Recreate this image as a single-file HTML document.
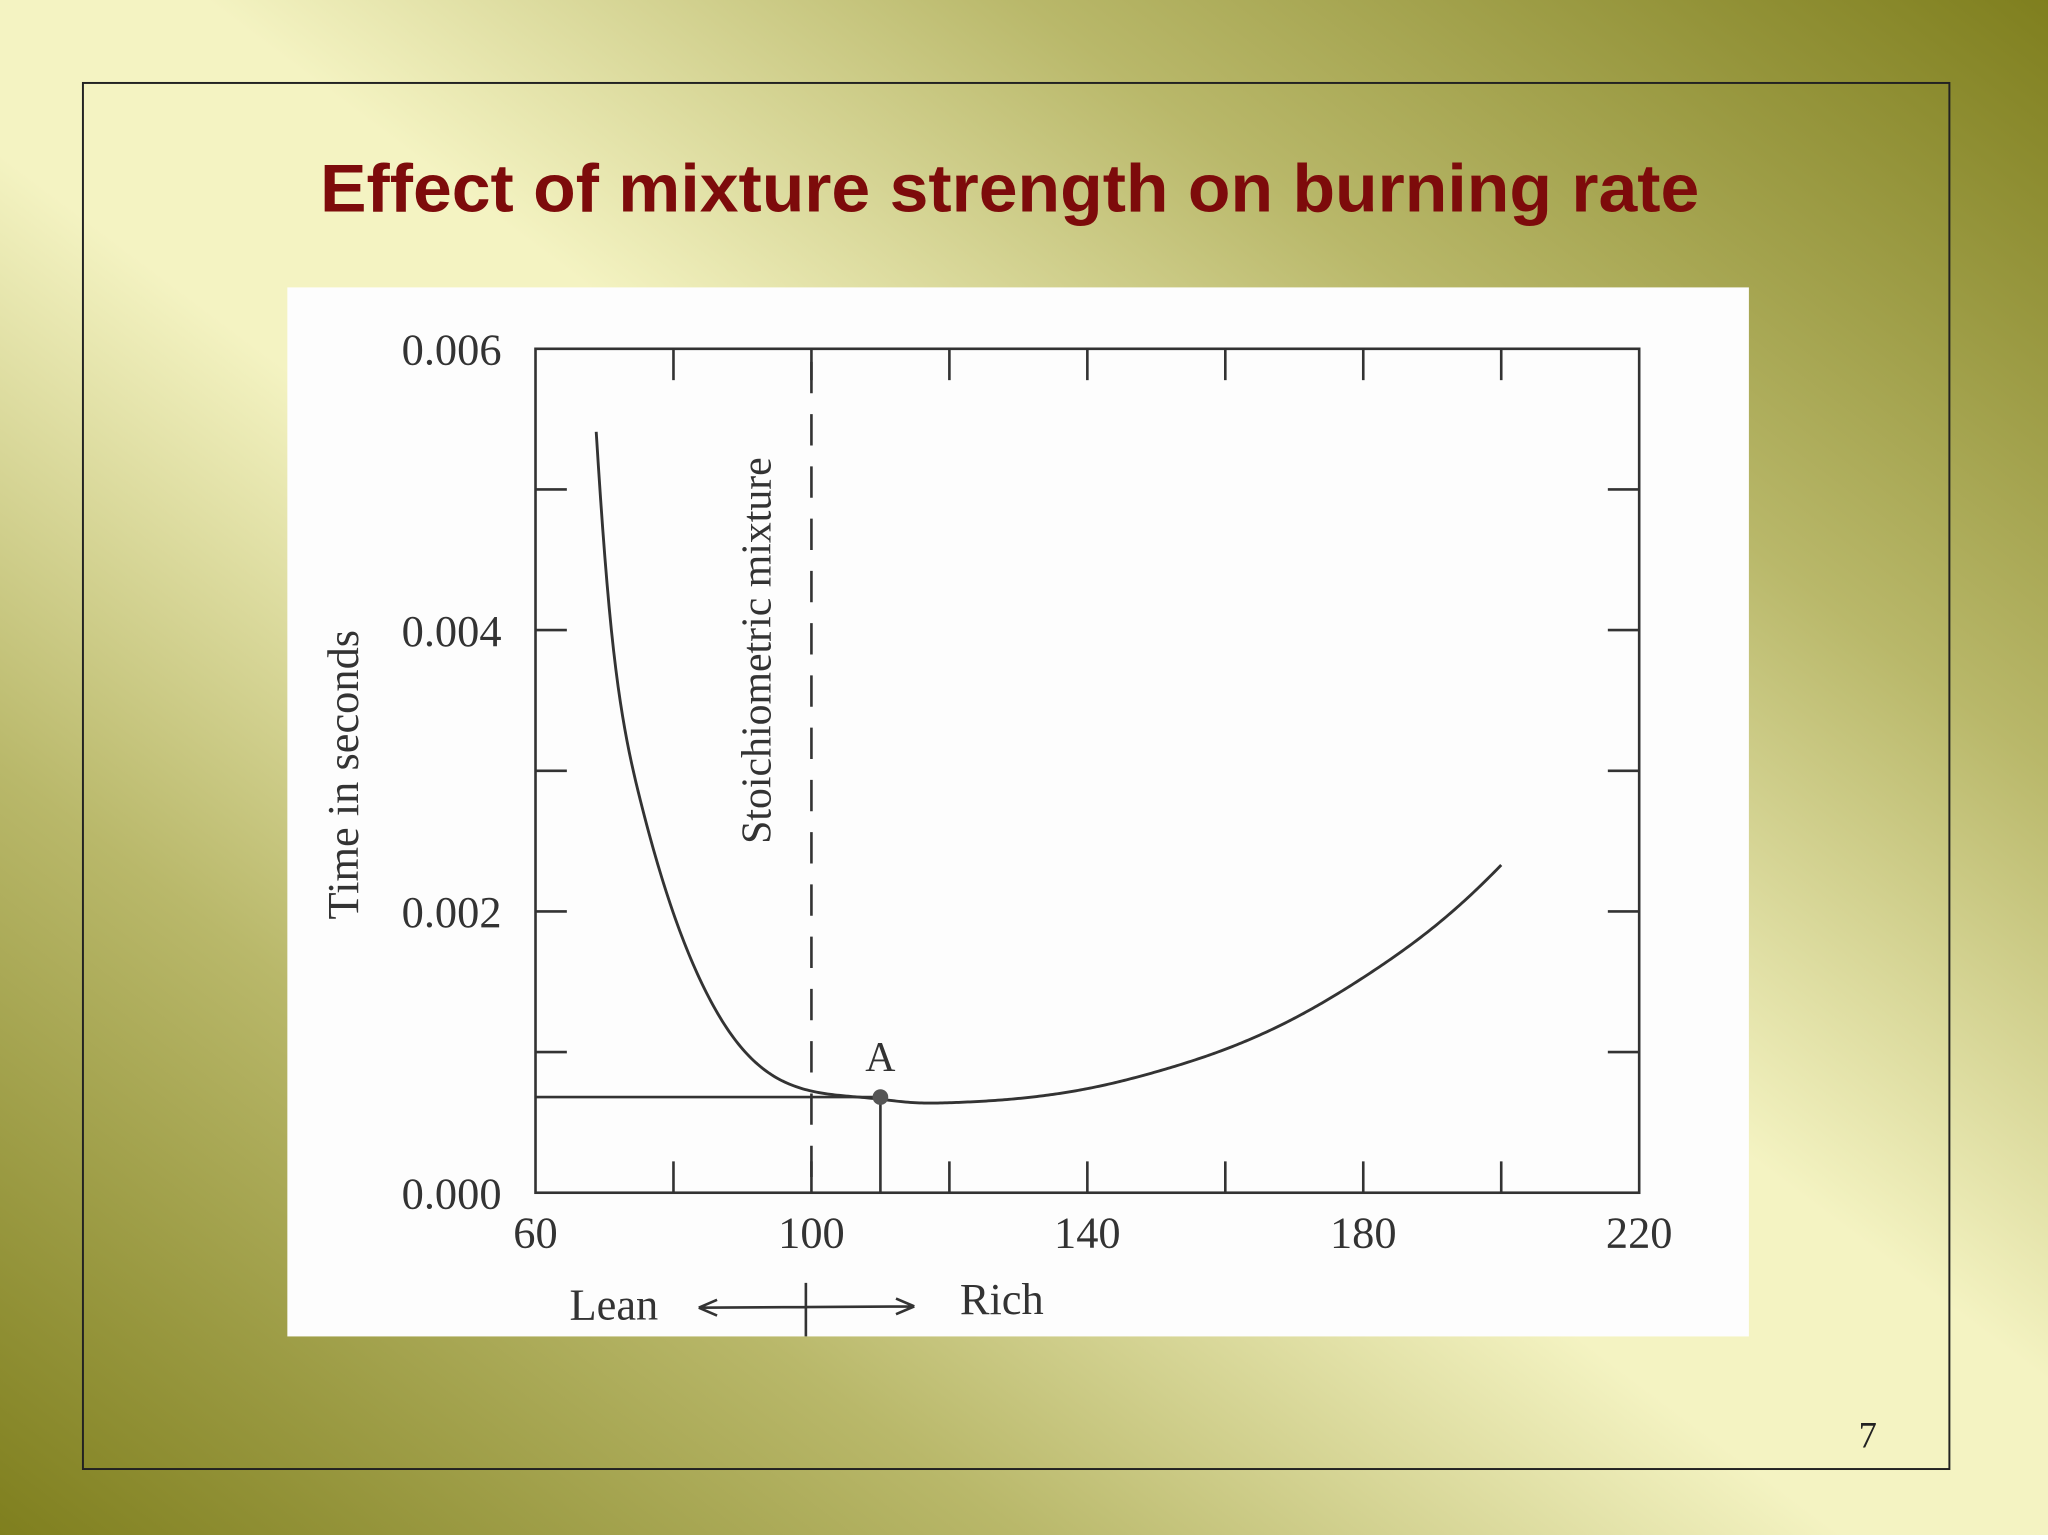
<!DOCTYPE html>
<html><head><meta charset="utf-8"><style>
html,body{margin:0;padding:0;}
body{width:2048px;height:1535px;overflow:hidden;}
</style></head><body>
<svg width="2048" height="1535" viewBox="0 0 1568 1175" preserveAspectRatio="none" xmlns="http://www.w3.org/2000/svg">
<defs>
<linearGradient id="bg" x1="1" y1="0" x2="0" y2="1">
<stop offset="0" stop-color="#7f7f1e"/>
<stop offset="0.25" stop-color="#b9b86a"/>
<stop offset="0.45" stop-color="#f4f3c2"/>
<stop offset="0.55" stop-color="#f4f3c2"/>
<stop offset="0.75" stop-color="#b9b86a"/>
<stop offset="1" stop-color="#7f7f1e"/>
</linearGradient>
</defs>
<rect x="0" y="0" width="1568" height="1175" fill="url(#bg)"/>
<rect x="63.5" y="63.5" width="1429" height="1061" fill="none" stroke="#222" stroke-width="1.5"/>
<text x="245" y="162" textLength="1056" lengthAdjust="spacingAndGlyphs" font-family="Liberation Sans, sans-serif" font-weight="bold" font-size="52" fill="#7d0b0b">Effect of mixture strength on burning  rate</text>
<rect x="220" y="220" width="1119" height="803" fill="#fdfdfd"/>
<g id="chart"></g>
<text x="1430" y="1108" text-anchor="middle" font-family="Liberation Serif, serif" font-size="28" fill="#222">7</text>
</svg>
<script>
const xValues=[68.8,71,75.2,79.9,84.8,89.7,94.5,99.4,109,115,120,130,140,150,160,170,180,190,200];
const yValues=[0.00541,0.0040,0.00279,0.0020,0.00142,0.00104,0.00083,0.00073,0.00067,0.00064,0.00064,0.00067,0.00074,0.00086,0.00102,0.00124,0.00153,0.00188,0.00233];
const xTicks=[60,100,140,180,220];
const yTicks=[0,0.002,0.004,0.006];
const pointA={x:110,y:0.00068};
const stoich=100;
const NS="http://www.w3.org/2000/svg";
const g=document.getElementById('chart');
const L=410,R=1255,T=267,B=913;
function sx(v){return L+(v-60)/(160)*(R-L);}
function sy(v){return B-v/0.006*(B-T);}
function el(t,a){const e=document.createElementNS(NS,t);for(const k in a)e.setAttribute(k,a[k]);g.appendChild(e);return e;}
const col="#333";
const box=el('rect',{x:L,y:T,width:R-L,height:B-T,fill:'none',stroke:col,'stroke-width':2});


for(let v=60;v<=220;v+=20){
 if(v===60||v===220)continue;
 const b=el('line',{x1:sx(v),x2:sx(v),y1:B,y2:B-24,stroke:col,'stroke-width':2});
 
 
 const t=el('line',{x1:sx(v),x2:sx(v),y1:T,y2:T+24,stroke:col,'stroke-width':2});
 
 
}
for(let i=1;i<6;i++){
 const v=i*0.001;
 const l=el('line',{x1:L,x2:L+24,y1:sy(v),y2:sy(v),stroke:col,'stroke-width':2});
 
 
 const r=el('line',{x1:R,x2:R-24,y1:sy(v),y2:sy(v),stroke:col,'stroke-width':2});
 
 
}
xTicks.forEach(v=>{
 const t=el('text',{x:sx(v),y:B+42,'text-anchor':'middle','font-family':'Liberation Serif, serif','font-size':34,fill:col});
 t.textContent=v;
 
 
});
yTicks.forEach(v=>{
 const t=el('text',{x:L-26,y:sy(v)+12,'text-anchor':'end','font-family':'Liberation Serif, serif','font-size':34,fill:col});
 t.textContent=v.toFixed(3);
 
 
});
const yt=el('text',{x:0,y:0,transform:'translate(274,593) rotate(-90)','text-anchor':'middle','font-family':'Liberation Serif, serif','font-size':34,fill:col});
yt.textContent='Time in seconds';


const sl=el('line',{x1:sx(stoich),x2:sx(stoich),y1:T+10,y2:B,stroke:col,'stroke-width':2,'stroke-dasharray':'24,16'});


const st=el('text',{x:0,y:0,transform:'translate(590,498) rotate(-90)','text-anchor':'middle','font-family':'Liberation Serif, serif','font-size':32,fill:col});
st.textContent='Stoichiometric mixture';


// natural cubic spline on ln(y)
const n=xValues.length;
const X=xValues, Y=yValues.map(Math.log);
const hh=[],al=[0],l=[1],mu=[0],z=[0],cc=new Array(n).fill(0),bb=[],dd=[];
for(let i=0;i<n-1;i++)hh.push(X[i+1]-X[i]);
for(let i=1;i<n-1;i++)al[i]=3/hh[i]*(Y[i+1]-Y[i])-3/hh[i-1]*(Y[i]-Y[i-1]);
for(let i=1;i<n-1;i++){l[i]=2*(X[i+1]-X[i-1])-hh[i-1]*mu[i-1];mu[i]=hh[i]/l[i];z[i]=(al[i]-hh[i-1]*z[i-1])/l[i];}
for(let j=n-2;j>=0;j--){cc[j]=(j===0?0:z[j]-mu[j]*cc[j+1]);bb[j]=(Y[j+1]-Y[j])/hh[j]-hh[j]*(cc[j+1]+2*cc[j])/3;dd[j]=(cc[j+1]-cc[j])/(3*hh[j]);}
let d='';
for(let i=0;i<n-1;i++){
 const steps=Math.max(4,Math.ceil(hh[i]*3));
 for(let s=(i===0?0:1);s<=steps;s++){
  const t=hh[i]*s/steps;
  const val=Math.exp(Y[i]+bb[i]*t+cc[i]*t*t+dd[i]*t*t*t);
  d+=(d?' L':'M')+sx(X[i]+t).toFixed(2)+','+sy(val).toFixed(2);
 }
}
const c=el('path',{d:d,fill:'none',stroke:col,'stroke-width':2.2,'stroke-linejoin':'round'});


const h=el('line',{x1:L,x2:sx(pointA.x),y1:sy(pointA.y),y2:sy(pointA.y),stroke:col,'stroke-width':2});


const v=el('line',{x1:sx(pointA.x),x2:sx(pointA.x),y1:sy(pointA.y),y2:B,stroke:col,'stroke-width':2});


const dot=el('circle',{cx:sx(pointA.x),cy:sy(pointA.y),r:6,fill:'#555'});


const at=el('text',{x:sx(pointA.x),y:sy(pointA.y)-20,'text-anchor':'middle','font-family':'Liberation Serif, serif','font-size':32,fill:col});
at.textContent='A';


const lean=el('text',{x:470,y:1010,'text-anchor':'middle','font-family':'Liberation Serif, serif','font-size':34,fill:col});
lean.textContent='Lean';


const rich=el('text',{x:767,y:1006,'text-anchor':'middle','font-family':'Liberation Serif, serif','font-size':34,fill:col});
rich.textContent='Rich';


const ar=el('path',{d:'M535,1001 L700,1000 M535,1001 l14,-6 M535,1001 l14,6 M700,1000 l-14,-6 M700,1000 l-14,6 M617,982 L617,1023',fill:'none',stroke:col,'stroke-width':2});


</script>
</body></html>
